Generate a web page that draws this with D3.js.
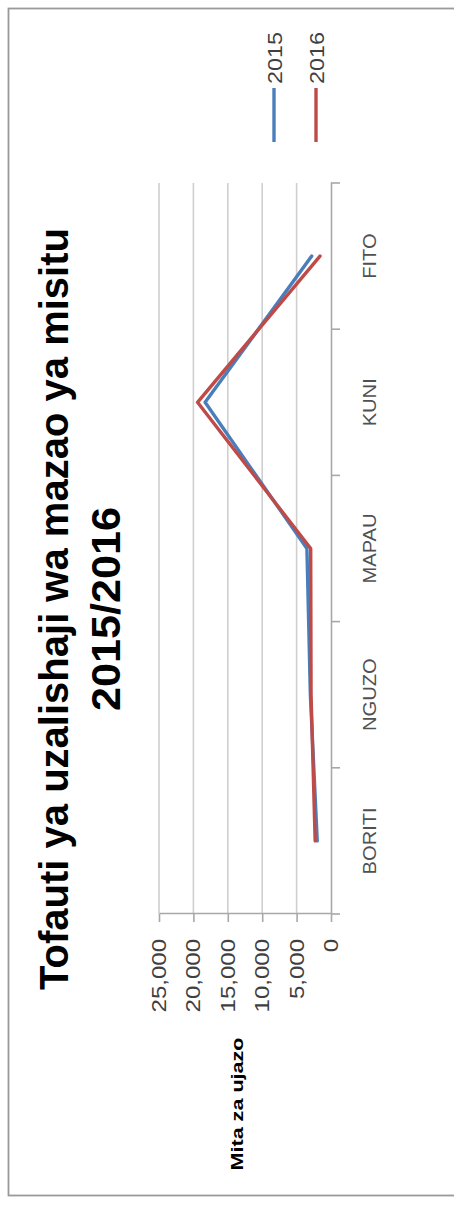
<!DOCTYPE html>
<html>
<head>
<meta charset="utf-8">
<script src="https://cdn.jsdelivr.net/npm/d3@7"></script>
<style>
  html, body { margin: 0; padding: 0; background: #fff; }
  svg { display: block; }
  text { font-family: "Liberation Sans", Arial, sans-serif; }
</style>
</head>
<body>
<svg id="chart" width="454" height="1208"></svg>
<script>
// ---- data ----
const categories = ["BORITI", "NGUZO", "MAPAU", "KUNI", "FITO"];
const series2015 = [2000, 3000, 3500, 18300, 2800];
const series2016 = [2300, 2900, 2950, 19400, 1600];
const seriesNames = ["2015", "2016"];
const valueTicks = [0, 5000, 10000, 15000, 20000, 25000];
const titleLines = ["Tofauti ya uzalishaji wa mazao ya misitu", "2015/2016"];
const axisTitle = "Mita za ujazo";

const colors = ["#4a7ebb", "#be4b48"];
const W = 454, H = 1208;

const svg = d3.select("#chart");

// frame
svg.append("rect")
  .attr("x", 8.5).attr("y", 8.5)
  .attr("width", W + 20).attr("height", 1187)
  .attr("fill", "none").attr("stroke", "#9a9a9a").attr("stroke-width", 1.8);

// local chart frame, rotated -90deg (reads bottom to top)
const g = svg.append("g").attr("transform", `translate(0,${H}) rotate(-90)`);

const plotLeft = 294, plotRight = 1025, plotTop = 159, plotBottom = 331;

const x = d3.scaleBand().domain(categories).range([plotLeft, plotRight]).paddingInner(0).paddingOuter(0);
const y = d3.scaleLinear().domain([0, 25000]).range([plotBottom, plotTop]);

function stretch(sel, k) {
  sel.each(function () {
    const len = this.getComputedTextLength();
    d3.select(this).attr("textLength", len * k).attr("lengthAdjust", "spacingAndGlyphs");
  });
}

// gridlines
g.append("g").selectAll("line")
  .data(valueTicks.filter(v => v > 0))
  .join("line")
  .attr("x1", plotLeft).attr("x2", plotRight)
  .attr("y1", d => y(d)).attr("y2", d => y(d))
  .attr("stroke", "#cfcfcf").attr("stroke-width", 1.6);

// value axis (left in local frame)
const yAxis = g.append("g")
  .attr("transform", `translate(${plotLeft},0)`)
  .call(d3.axisLeft(y).tickValues(valueTicks).tickFormat(d3.format(",")).tickSizeInner(8).tickSizeOuter(0).tickPadding(17));
yAxis.select(".domain").attr("stroke", "#a8a8a8").attr("stroke-width", 1.6);
yAxis.selectAll(".tick line").attr("stroke", "#a8a8a8").attr("stroke-width", 1.6);
yAxis.selectAll("text").attr("font-size", 20).attr("fill", "#404040");
stretch(yAxis.selectAll("text"), 1.2);

// category axis (bottom in local frame)
const xAxis = g.append("g")
  .attr("transform", `translate(0,${plotBottom})`)
  .call(d3.axisBottom(x).tickSize(0).tickPadding(32));
xAxis.select(".domain").attr("stroke", "#a8a8a8").attr("stroke-width", 1.6);
xAxis.selectAll("text").attr("font-size", 19).attr("fill", "#505050");
stretch(xAxis.selectAll("text"), 1.06);

const boundaries = categories.map(c => x(c)).concat([x(categories[categories.length - 1]) + x.bandwidth()]);
xAxis.selectAll(".bt").data(boundaries).join("line")
  .attr("class", "bt")
  .attr("x1", d => d).attr("x2", d => d)
  .attr("y1", 0).attr("y2", 9)
  .attr("stroke", "#a8a8a8").attr("stroke-width", 1.6);

// lines
const line = d3.line()
  .x((d, i) => x(categories[i]) + x.bandwidth() / 2)
  .y(d => y(d));

[series2015, series2016].forEach((s, i) => {
  g.append("path")
    .datum(s)
    .attr("d", line)
    .attr("fill", "none")
    .attr("stroke", colors[i])
    .attr("stroke-width", 3.4)
    .attr("stroke-linejoin", "round")
    .attr("stroke-linecap", "round");
});

// title
const t1 = g.append("text")
  .attr("x", 599).attr("y", 68)
  .attr("text-anchor", "middle")
  .attr("font-size", 40).attr("font-weight", "bold").attr("fill", "#000")
  .text(titleLines[0]);
t1.attr("textLength", 762).attr("lengthAdjust", "spacingAndGlyphs");
const t2 = g.append("text")
  .attr("x", 599).attr("y", 120)
  .attr("text-anchor", "middle")
  .attr("font-size", 40).attr("font-weight", "bold").attr("fill", "#000")
  .text(titleLines[1]);
t2.attr("textLength", 204).attr("lengthAdjust", "spacingAndGlyphs");

// axis title
g.append("text")
  .attr("x", 104).attr("y", 243)
  .attr("text-anchor", "middle")
  .attr("font-size", 16).attr("font-weight", "bold").attr("fill", "#000")
  .text(axisTitle)
  .attr("textLength", 133).attr("lengthAdjust", "spacingAndGlyphs");

// legend
const legendY = [274, 316];
seriesNames.forEach((name, i) => {
  g.append("line")
    .attr("x1", 1066).attr("x2", 1120)
    .attr("y1", legendY[i]).attr("y2", legendY[i])
    .attr("stroke", colors[i]).attr("stroke-width", 3.4);
  const t = g.append("text")
    .attr("x", 1124).attr("y", legendY[i] + 7.5)
    .attr("font-size", 20).attr("fill", "#404040")
    .text(name);
  stretch(t, 1.17);
});
</script>
</body>
</html>
